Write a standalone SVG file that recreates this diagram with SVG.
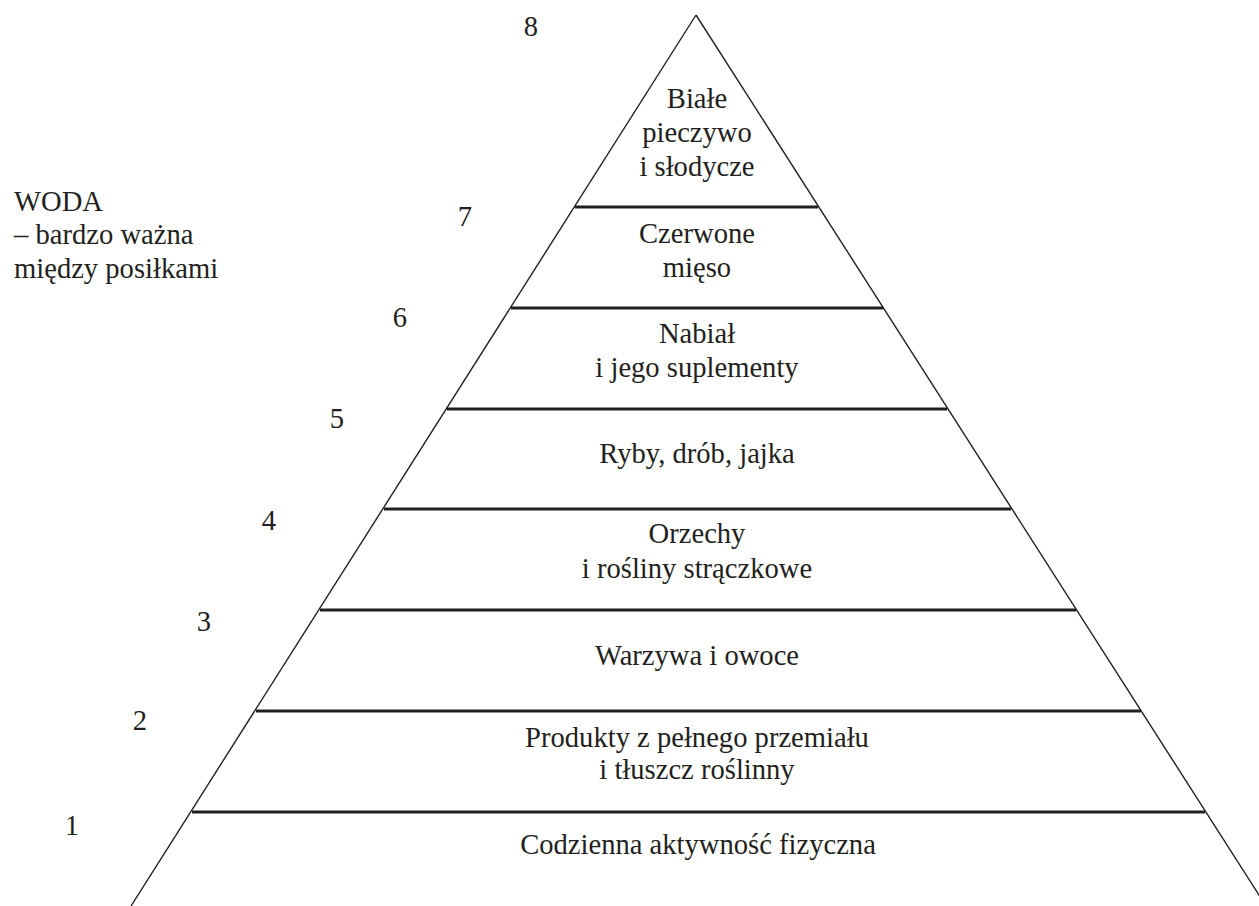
<svg xmlns="http://www.w3.org/2000/svg" width="1259" height="906" viewBox="0 0 1259 906">
<style>
  .c { text-anchor: middle; }
  .side { stroke: #231f20; stroke-width: 1.4; fill: none; }
  .tier { stroke: #231f20; stroke-width: 3; }
</style>
<rect width="1259" height="906" fill="#ffffff"/>
<g id="connectors">
  <line class="side" x1="696" y1="15" x2="131" y2="906"/>
  <line class="side" x1="696" y1="15" x2="1266" y2="906"/>
  <line class="tier" x1="575" y1="207" x2="818" y2="207"/>
  <line class="tier" x1="511" y1="308" x2="883" y2="308"/>
  <line class="tier" x1="447" y1="409" x2="947" y2="409"/>
  <line class="tier" x1="384" y1="509" x2="1011" y2="509"/>
  <line class="tier" x1="320" y1="610" x2="1076" y2="610"/>
  <line class="tier" x1="256" y1="711" x2="1141" y2="711"/>
  <line class="tier" x1="192" y1="812" x2="1205" y2="812"/>
</g>
<g font-family="Liberation Serif, DejaVu Serif, serif" font-size="28.6" fill="#231f20">
<g id="water">
  <text x="14" y="211">WODA</text>
  <text x="14" y="244">– bardzo ważna</text>
  <text x="14" y="278">między posiłkami</text>
</g>
<g id="tier8">
  <text class="c" x="531" y="36">8</text>
  <text class="c" x="697" y="108">Białe</text>
  <text class="c" x="697" y="142">pieczywo</text>
  <text class="c" x="697" y="176">i słodycze</text>
</g>
<g id="tier7">
  <text class="c" x="465" y="226">7</text>
  <text class="c" x="697" y="243">Czerwone</text>
  <text class="c" x="697" y="277">mięso</text>
</g>
<g id="tier6">
  <text class="c" x="400" y="327">6</text>
  <text class="c" x="697" y="343">Nabiał</text>
  <text class="c" x="697" y="377">i jego suplementy</text>
</g>
<g id="tier5">
  <text class="c" x="337" y="428">5</text>
  <text class="c" x="697" y="463">Ryby, drób, jajka</text>
</g>
<g id="tier4">
  <text class="c" x="269" y="530">4</text>
  <text class="c" x="697" y="543">Orzechy</text>
  <text class="c" x="697" y="578">i rośliny strączkowe</text>
</g>
<g id="tier3">
  <text class="c" x="204" y="631">3</text>
  <text class="c" x="697" y="665">Warzywa i owoce</text>
</g>
<g id="tier2">
  <text class="c" x="140" y="730">2</text>
  <text class="c" x="697" y="747">Produkty z pełnego przemiału</text>
  <text class="c" x="697" y="779">i tłuszcz roślinny</text>
</g>
<g id="tier1">
  <text class="c" x="72" y="835">1</text>
  <text class="c" x="698" y="854">Codzienna aktywność fizyczna</text>
</g>
</g>
</svg>
